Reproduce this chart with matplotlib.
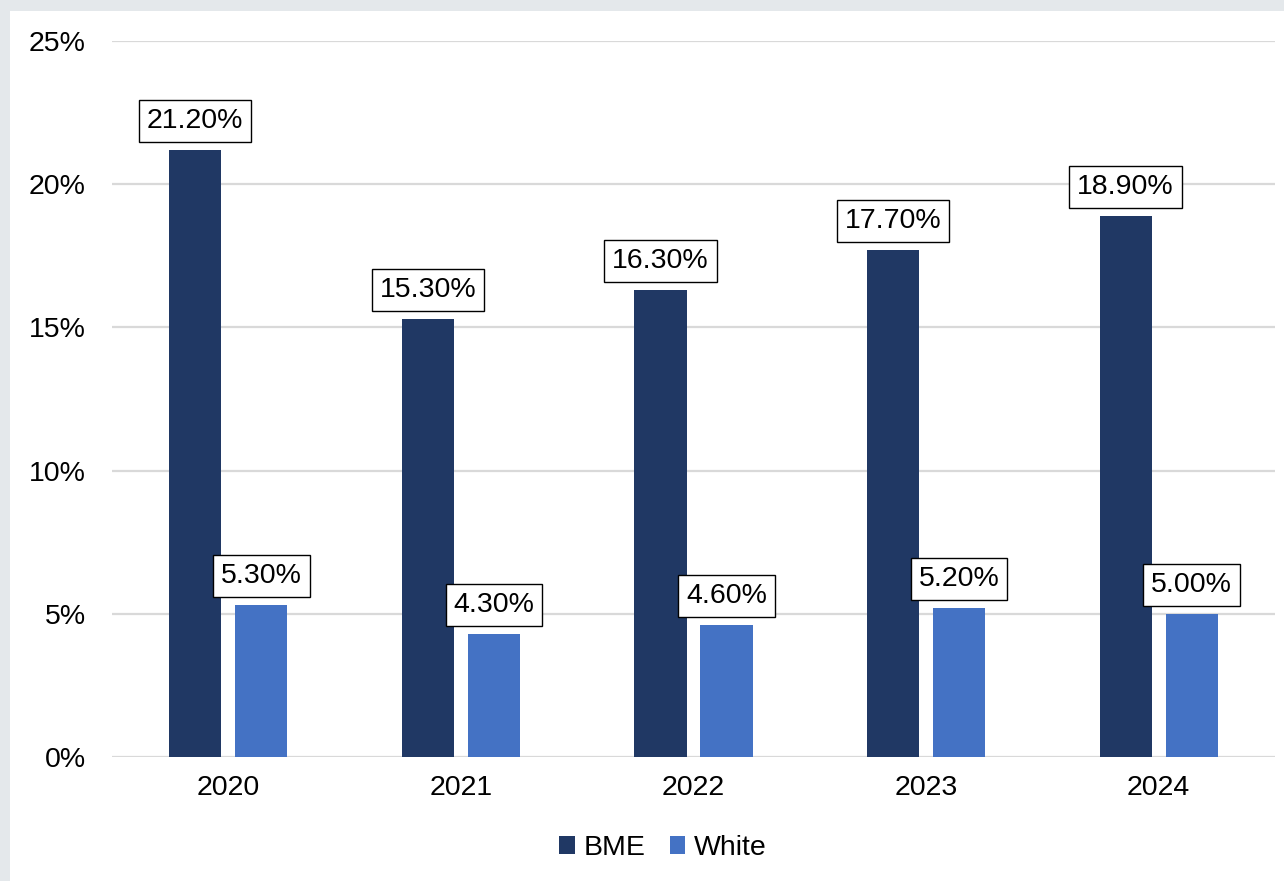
import matplotlib
matplotlib.use("Agg")
import matplotlib.pyplot as plt
from matplotlib.patches import Rectangle
import numpy as np

years = ["2020", "2021", "2022", "2023", "2024"]
bme = [21.2, 15.3, 16.3, 17.7, 18.9]
white = [5.3, 4.3, 4.6, 5.2, 5.0]
yticks = [0, 5, 10, 15, 20, 25]

BME_COLOR = "#203864"
WHITE_COLOR = "#4472C4"

plt.rcParams["font.family"] = ["Liberation Sans", "DejaVu Sans"]
FS = 20.5

W, H = 1284, 881
fig = plt.figure(figsize=(W / 100, H / 100), dpi=100)
fig.patch.set_facecolor("#E4E8EB")
# white card behind the chart
fig.patches.append(Rectangle((10 / W, 0), 1 - 10 / W, 1 - 11 / H,
                             transform=fig.transFigure, facecolor="white",
                             edgecolor="none", zorder=-5))

ax = fig.add_axes([112 / W, (H - 757) / H, (1275 - 112) / W, (757 - 41) / H])
ax.set_facecolor("none")

x = np.arange(len(years))
bw = 0.224
off = 0.142
b1 = ax.bar(x - off, bme, bw, color=BME_COLOR, label="BME", zorder=3)
b2 = ax.bar(x + off, white, bw, color=WHITE_COLOR, label="White", zorder=3)

ax.set_xlim(-0.5, len(years) - 0.5)
ax.set_ylim(0, 25)
ax.set_yticks(yticks)
ax.set_yticklabels([f"{v}%" for v in yticks], fontsize=FS)
ax.set_xticks(x)
ax.set_xticklabels(years, fontsize=FS)
ax.tick_params(axis="both", length=0)
ax.tick_params(axis="y", pad=19)
ax.tick_params(axis="x", pad=13)
ax.grid(axis="y", color="#D9D9D9", linewidth=1.6, zorder=0)
for s in ax.spines.values():
    s.set_visible(False)

for xs, vals in ((x - off, bme), (x + off, white)):
    for xi, v in zip(xs, vals):
        ax.annotate(f"{v:.2f}%", (xi, v), xytext=(0, 11.5), textcoords="offset points",
                    ha="center", va="bottom", fontsize=FS, zorder=5,
                    bbox=dict(boxstyle="square,pad=0.28", facecolor="white",
                              edgecolor="black", linewidth=1.0))

leg = fig.legend(handles=[b1, b2], loc="center", bbox_to_anchor=(663 / W, 1 - 848 / H),
                 ncol=2, frameon=False, fontsize=FS, handlelength=0.55, handleheight=0.55,
                 handletextpad=0.3, columnspacing=0.85)

fig.savefig("out.png", dpi=100)
